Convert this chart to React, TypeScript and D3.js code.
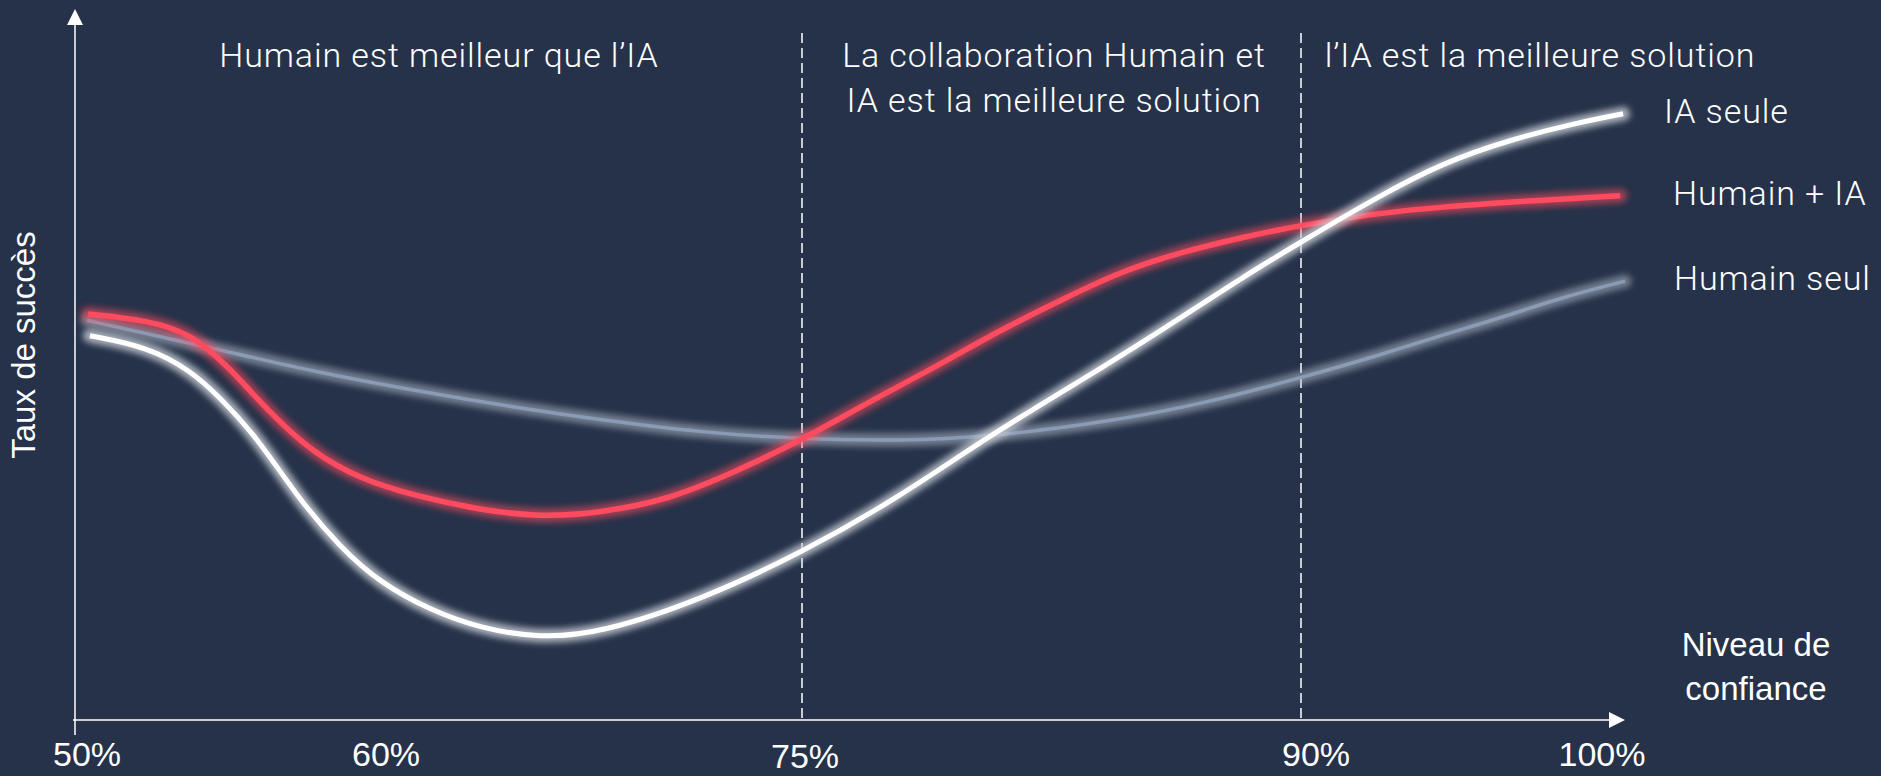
import React, { useEffect, useRef } from 'react'
import * as d3 from 'd3'

const W = 1881
const H = 776

// niveau de confiance (%) / taux de succès (0-100, échelle relative)
const iaSeuleX = [50.48, 52.32, 53.7, 54.66, 55.85, 57.14, 58.52, 59.81, 61.59, 63.39, 65.55, 67.72, 71.32, 75, 77.95, 80.74, 84.26, 86.27, 88.26, 90, 92.35, 94.38, 96.45, 98.52, 99.94]
const iaSeuleY = [54.9, 53.3, 50.0, 46.1, 40.4, 31.9, 24.7, 19.6, 15.7, 13.1, 11.7, 12.4, 17.1, 23.9, 31.9, 41.0, 51.0, 57.1, 63.3, 68.3, 74.7, 79.6, 82.9, 85.3, 86.6]

const humainIAX = [50.42, 52.32, 53.7, 54.98, 56.17, 57.65, 59.26, 60.97, 63.39, 65.55, 67.72, 70.13, 72.51, 75, 76.95, 78.85, 80.95, 82.96, 84.56, 86.27, 88.26, 90, 92.35, 94.38, 96.45, 99.85]
const humainIAY = [58.0, 57.1, 55.3, 50.3, 44.3, 38.1, 34.3, 32.1, 30.0, 29.0, 29.6, 31.4, 35.3, 40.0, 45.3, 50.0, 55.7, 60.4, 64.0, 66.7, 69.0, 70.7, 72.4, 73.3, 74.0, 74.9]

const humainSeulX = [50.39, 52.41, 55.63, 57.46, 60.97, 64.58, 67.72, 71.32, 74.93, 77.95, 80.56, 84.26, 87.26, 90, 92.35, 94.29, 96.14, 97.99, 100]
const humainSeulY = [57.1, 55.1, 51.9, 50.0, 47.1, 44.7, 42.9, 41.1, 40.1, 39.9, 40.4, 42.6, 45.4, 48.9, 52.0, 54.9, 57.4, 60.3, 62.7]

const tickValues = [50, 60, 75, 90, 100]
const tickLabels = ['50%', '60%', '75%', '90%', '100%']
const zoneBreaks = [75, 90]

const zoneTitles = [
  ['Humain est meilleur que l’IA'],
  ['La collaboration Humain et', 'IA est la meilleure solution'],
  ['l’IA est la meilleure solution'],
]

const seriesNames = ['Humain seul', 'Humain + IA', 'IA seule']

const bg = '#263249'
const titleFont = 'Roboto, "Open Sans", sans-serif'
const axisFont = '"Liberation Sans", Arial, sans-serif'

export default function App() {
  const svgRef = useRef<SVGSVGElement>(null)

  useEffect(() => {
    const svg = d3.select(svgRef.current)
    svg.selectAll('*').remove()

    const x = d3.scaleLinear().domain([50, 60, 75, 90, 100]).range([75, 386, 802, 1301, 1625])
    const y = d3.scaleLinear().domain([0, 100]).range([720, 20])

    const defs = svg.append('defs')
    defs.append('filter')
      .attr('id', 'glow')
      .attr('x', '-10%').attr('y', '-10%').attr('width', '120%').attr('height', '120%')
      .append('feGaussianBlur')
      .attr('stdDeviation', 3.4)

    svg.append('rect').attr('width', W).attr('height', H).attr('fill', bg)

    // dashed separators
    svg.selectAll('.sep')
      .data(zoneBreaks)
      .enter().append('line')
      .attr('class', 'sep')
      .attr('x1', d => x(d)).attr('x2', d => x(d))
      .attr('y1', 33).attr('y2', y(0))
      .attr('stroke', '#ffffff')
      .attr('stroke-width', 1.5)
      .attr('stroke-dasharray', '10,5')

    // axes
    const x0 = x(50), y0 = y(0)
    svg.append('line')
      .attr('x1', x0).attr('x2', x0).attr('y1', 22).attr('y2', y0 + 15)
      .attr('stroke', '#ffffff').attr('stroke-width', 1.5)
    svg.append('path')
      .attr('d', `M${x0},9 L${x0 - 8},25 L${x0 + 8},25 Z`)
      .attr('fill', '#ffffff')
    svg.append('line')
      .attr('x1', x0 - 2).attr('x2', x(100) - 14).attr('y1', y0).attr('y2', y0)
      .attr('stroke', '#ffffff').attr('stroke-width', 1.5)
    svg.append('path')
      .attr('d', `M${x(100)},${y0} L${x(100) - 16},${y0 - 8} L${x(100) - 16},${y0 + 8} Z`)
      .attr('fill', '#ffffff')

    // tick labels
    const nudge: Record<number, number> = { 50: 12, 60: 0, 75: 3, 90: 15, 100: -23 }
    svg.selectAll('.tick')
      .data(tickValues)
      .enter().append('text')
      .attr('class', 'tick')
      .attr('x', d => x(d) + nudge[d])
      .attr('y', (d, i) => (i === 2 ? 768 : 766))
      .attr('text-anchor', 'middle')
      .attr('font-family', axisFont)
      .attr('font-size', 34)
      .attr('fill', '#ffffff')
      .text((d, i) => tickLabels[i])

    // axis titles
    svg.append('text')
      .attr('transform', `translate(35,345) rotate(-90)`)
      .attr('text-anchor', 'middle')
      .attr('font-family', axisFont)
      .attr('font-size', 33)
      .attr('fill', '#ffffff')
      .text('Taux de succès')

    const xt = svg.append('text')
      .attr('text-anchor', 'middle')
      .attr('font-family', axisFont)
      .attr('font-size', 33)
      .attr('fill', '#ffffff')
    xt.append('tspan').attr('x', 1756).attr('y', 656).text('Niveau de')
    xt.append('tspan').attr('x', 1756).attr('y', 700).text('confiance')

    // zone titles
    const titleCx = [439, 1054, 1540]
    zoneTitles.forEach((lines, k) => {
      const t = svg.append('text')
        .attr('text-anchor', 'middle')
        .attr('font-family', titleFont)
        .attr('font-weight', 300)
        .attr('font-size', 34)
        .attr('letter-spacing', 0.9)
        .attr('fill', '#ffffff')
      lines.forEach((l, i) => {
        t.append('tspan').attr('x', titleCx[k]).attr('y', 67 + i * 45).text(l)
      })
    })

    // curves
    const line = d3.line<[number, number]>()
      .curve(d3.curveBasis)
      .x(d => x(d[0]))
      .y(d => y(d[1]))

    const series = [
      { xs: humainSeulX, ys: humainSeulY, color: '#8a9bb6', glow: '#b4bccb', w: 3.5, gw: 13, go: 0.55 },
      { xs: humainIAX, ys: humainIAY, color: '#ff4b5f', glow: '#ff4b5f', w: 5.5, gw: 14, go: 0.55 },
      { xs: iaSeuleX, ys: iaSeuleY, color: '#ffffff', glow: '#c9ced6', w: 5, gw: 14, go: 0.8 },
    ]

    series.forEach(s => {
      const pts: [number, number][] = s.xs.map((v, i) => [v, s.ys[i]])
      svg.append('path')
        .datum(pts)
        .attr('d', line)
        .attr('fill', 'none')
        .attr('stroke', s.glow)
        .attr('stroke-opacity', s.go)
        .attr('stroke-width', s.gw)
        .attr('stroke-linecap', 'round')
        .attr('filter', 'url(#glow)')
      svg.append('path')
        .datum(pts)
        .attr('d', line)
        .attr('fill', 'none')
        .attr('stroke', s.color)
        .attr('stroke-width', s.w)
    })

    // series labels
    const labelPos: Record<string, [number, number]> = {
      'IA seule': [1664, 123],
      'Humain + IA': [1673, 205],
      'Humain seul': [1674, 290],
    }
    seriesNames.forEach(n => {
      svg.append('text')
        .attr('x', labelPos[n][0]).attr('y', labelPos[n][1])
        .attr('font-family', titleFont)
        .attr('font-weight', 300)
        .attr('font-size', 34)
        .attr('letter-spacing', 0.9)
        .attr('fill', '#ffffff')
        .text(n)
    })
  }, [])

  return (
    <>
      <style>{`body{margin:0;background:${bg}}`}</style>
      <svg ref={svgRef} width={W} height={H} style={{ display: 'block' }} />
    </>
  )
}
